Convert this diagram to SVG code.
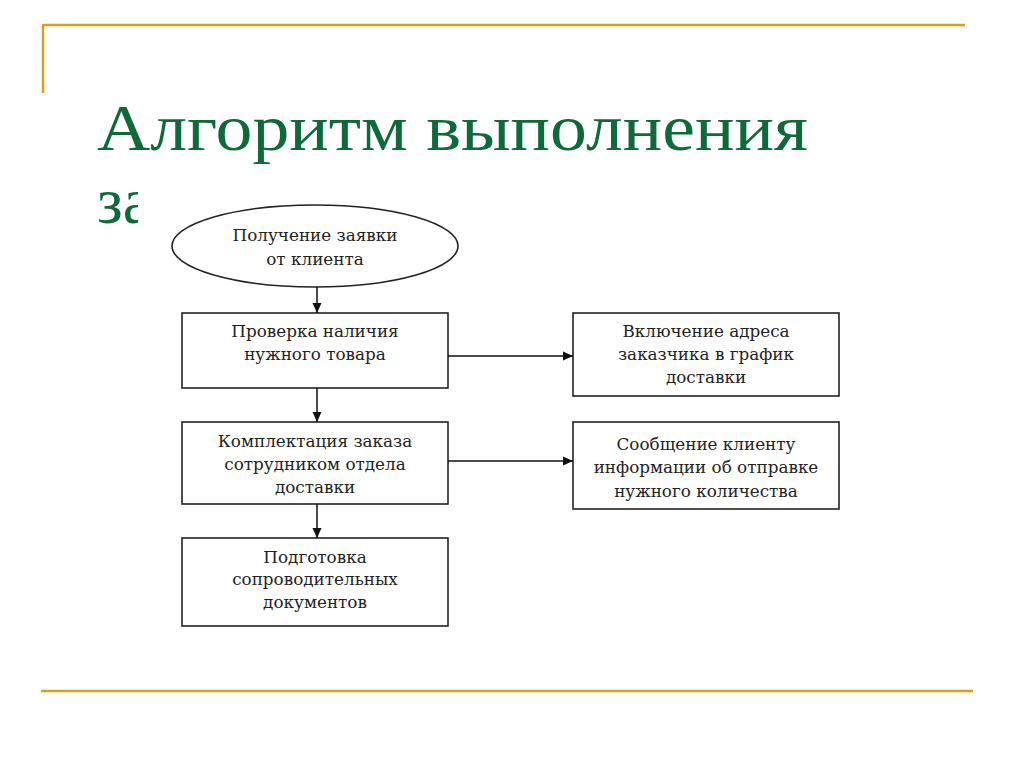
<svg xmlns="http://www.w3.org/2000/svg" width="1024" height="768" viewBox="0 0 1024 768">
<style>
.gold{stroke:#d1a21b;stroke-width:2.5;fill:none}
.title{font-family:"Liberation Serif","DejaVu Serif",serif;fill:#0f6a3a;font-size:65px}
.box{fill:#fff;stroke:#222;stroke-width:1.6}
.lbl{font-family:"DejaVu Serif","Liberation Serif",serif;font-size:16.8px;fill:#222;text-anchor:middle}
.edge{stroke:#111;stroke-width:1.5;fill:none;marker-end:url(#ah)}
</style>
<defs>
<marker id="ah" markerWidth="12" markerHeight="12" refX="10" refY="5" orient="auto" markerUnits="userSpaceOnUse">
<path d="M0,0.5 L10,5 L0,9.5 Z" fill="#111"/>
</marker>
<clipPath id="titleclip"><rect x="0" y="160" width="138" height="80"/></clipPath>
</defs>
<rect width="1024" height="768" fill="#fff"/>
<g id="decor">
<line class="gold" x1="42" y1="25" x2="965" y2="25"/>
<line class="gold" x1="43" y1="25" x2="43" y2="93"/>
<line class="gold" x1="41" y1="691" x2="973" y2="691"/>
</g>
<g id="title">
<text class="title" x="97" y="150" textLength="711" lengthAdjust="spacingAndGlyphs">Алгоритм выполнения</text>
<text class="title" x="97" y="223" clip-path="url(#titleclip)">за</text>
</g>
<g id="n1">
<ellipse class="box" cx="315" cy="246" rx="143" ry="41"/>
<text class="lbl" x="315" y="241">Получение заявки</text>
<text class="lbl" x="315" y="265">от клиента</text>
</g>
<g id="n2">
<rect class="box" x="182" y="313" width="266" height="75"/>
<text class="lbl" x="315" y="337">Проверка наличия</text>
<text class="lbl" x="315" y="360">нужного товара</text>
</g>
<g id="n3">
<rect class="box" x="182" y="422" width="266" height="82"/>
<text class="lbl" x="315" y="447">Комплектация заказа</text>
<text class="lbl" x="315" y="470">сотрудником отдела</text>
<text class="lbl" x="315" y="493">доставки</text>
</g>
<g id="n4">
<rect class="box" x="182" y="538" width="266" height="88"/>
<text class="lbl" x="315" y="563">Подготовка</text>
<text class="lbl" x="315" y="585">сопроводительных</text>
<text class="lbl" x="315" y="608">документов</text>
</g>
<g id="n5">
<rect class="box" x="573" y="313" width="266" height="83"/>
<text class="lbl" x="706" y="337">Включение адреса</text>
<text class="lbl" x="706" y="360">заказчика в график</text>
<text class="lbl" x="706" y="383">доставки</text>
</g>
<g id="n6">
<rect class="box" x="573" y="422" width="266" height="87"/>
<text class="lbl" x="706" y="450">Сообщение клиенту</text>
<text class="lbl" x="706" y="473">информации об отправке</text>
<text class="lbl" x="706" y="497">нужного количества</text>
</g>
<g id="connectors">
<line class="edge" x1="317" y1="287" x2="317" y2="313"/>
<line class="edge" x1="317" y1="388" x2="317" y2="422"/>
<line class="edge" x1="317" y1="504" x2="317" y2="538"/>
<line class="edge" x1="448" y1="356" x2="573" y2="356"/>
<line class="edge" x1="448" y1="461" x2="573" y2="461"/>
</g>
</svg>
